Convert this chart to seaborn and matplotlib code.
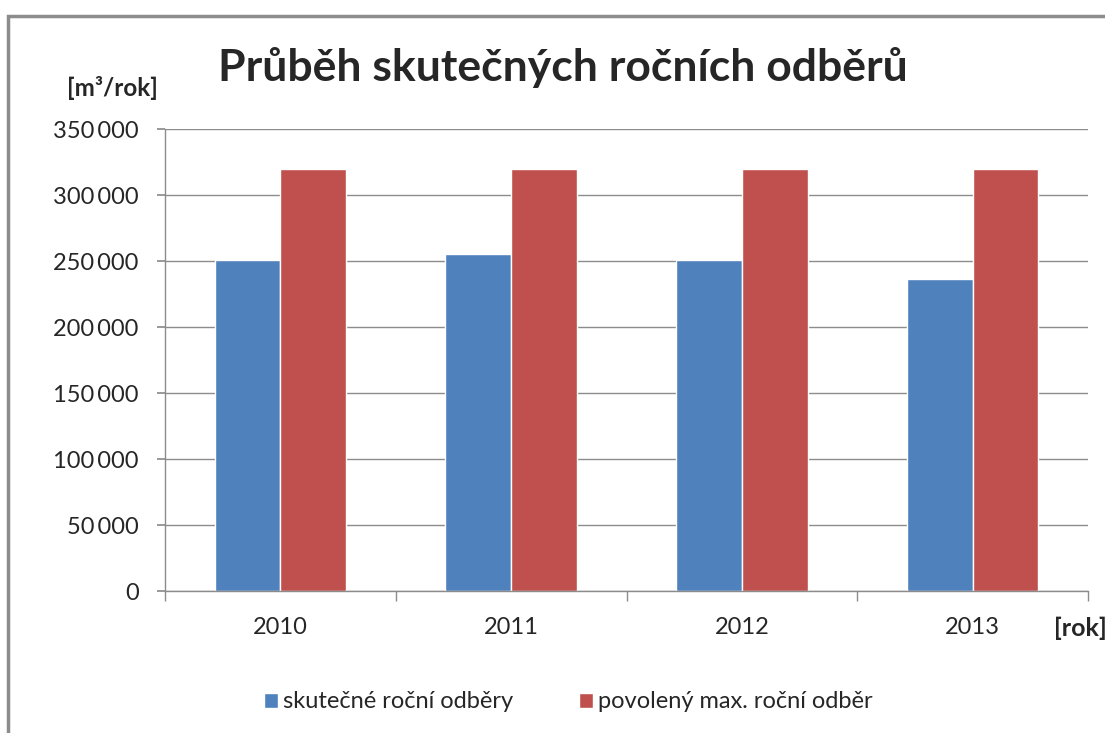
import numpy as np
import pandas as pd
import seaborn as sns
import matplotlib.pyplot as plt
from matplotlib.patches import Rectangle
from matplotlib.ticker import FuncFormatter, FixedLocator

years = ['2010', '2011', '2012', '2013']
actual = [250500, 255000, 250500, 236000]
permitted = [320000, 320000, 320000, 320000]
series_names = ['skutečné roční odběry', 'povolený max. roční odběr']
colors = ['#4F81BD', '#C0504D']

df = pd.DataFrame({
    'rok': years * 2,
    'hodnota': actual + permitted,
    'serie': [series_names[0]] * len(years) + [series_names[1]] * len(years),
})

sns.set_theme(style='white')
plt.rcParams['font.family'] = ['Lato', 'DejaVu Sans']

fig = plt.figure(figsize=(11.05, 7.33), dpi=100)
ax = fig.add_axes([165 / 1105, 1 - 591 / 733, (1088 - 165) / 1105, (591 - 129) / 733])

sns.barplot(data=df, x='rok', y='hodnota', hue='serie', palette=colors,
            width=0.57, gap=0, saturation=1, ax=ax, legend=True)

ax.set_ylim(0, 350000)
ax.set_xlim(-0.5, len(years) - 0.5)
ax.set_yticks(np.arange(0, 350001, 50000))
ax.yaxis.set_major_formatter(FuncFormatter(lambda v, p: f'{int(v):,}'.replace(',', '\u2009')))
ax.grid(axis='y', color='#8c8c8c', linewidth=1)
ax.set_axisbelow(True)
for s in ['top', 'right']:
    ax.spines[s].set_visible(False)
for s in ['left', 'bottom']:
    ax.spines[s].set_color('#8c8c8c')
    ax.spines[s].set_linewidth(1)

ax.tick_params(axis='y', which='major', length=6, color='#8c8c8c', labelsize=17, pad=13, left=True)
ax.tick_params(axis='x', which='major', length=0, labelsize=17, pad=19)
ax.xaxis.set_minor_locator(FixedLocator(np.arange(-0.5, len(years), 1)))
ax.tick_params(axis='x', which='minor', length=7, color='#8c8c8c', bottom=True)
ax.set_xlabel('')
ax.set_ylabel('')

handles, labels = ax.get_legend_handles_labels()
ax.get_legend().remove()
fig.legend(handles, labels, loc='center', bbox_to_anchor=(568 / 1105, 1 - 702 / 733),
           ncol=2, frameon=False, fontsize=17, handlelength=0.6, handleheight=0.6,
           handletextpad=0.2, columnspacing=2.8)

fig.text(563 / 1105, 1 - 68 / 733, 'Průběh skutečných ročních odběrů',
         ha='center', va='center', fontsize=32, fontweight='bold')
fig.text(112 / 1105, 1 - 88 / 733, '[m³/rok]', ha='center', va='center',
         fontsize=17.5, fontweight='bold')
fig.text(1080 / 1105, 1 - 628 / 733, '[rok]', ha='center', va='center',
         fontsize=18, fontweight='bold')

fig.patches.append(Rectangle((8 / 1105, -0.1), 1.2, 1 - 16 / 733 + 0.1,
                             transform=fig.transFigure, fill=False,
                             edgecolor='#8c8c8c', linewidth=2.5))

fig.savefig('out.png', dpi=100, facecolor='white')
